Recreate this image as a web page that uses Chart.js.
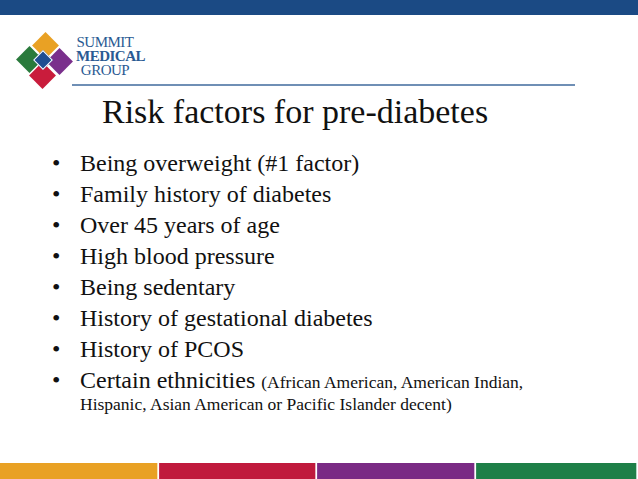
<!DOCTYPE html>
<html><head><meta charset="utf-8">
<script src="https://cdn.jsdelivr.net/npm/chart.js@4"></script>
<style>
html,body{margin:0;padding:0;background:#fff;width:638px;height:479px;overflow:hidden;position:relative;font-family:"Liberation Serif",serif}
#top{position:absolute;left:0;top:0;width:638px;height:15px;background:#1b4a84}
.d{position:absolute;width:19px;height:19px;transform:rotate(45deg)}
#logoText{position:absolute;left:76px;top:35px;width:58px;color:#2a5a93;text-align:center;line-height:14px;font-family:"Liberation Serif",serif;letter-spacing:-0.5px}
#rule{position:absolute;left:72px;top:84px;width:503px;height:2px;background:#6f8fb5}
#title{position:absolute;left:102px;top:93px;font-size:34px;color:#111}
ul{position:absolute;left:52px;top:148px;margin:0;padding:0;list-style:none;font-size:24px;color:#111}
li{height:31px;line-height:31px;position:relative;padding-left:28px;white-space:nowrap}
li:before{content:"•";position:absolute;left:0}
.sm{font-size:17.5px}
#stripe{position:absolute;left:0;top:463px;width:638px;height:16px}
</style></head><body>
<div id="top"></div>
<div class="d" style="left:36px;top:36px;background:#e9a124"></div>
<div class="d" style="left:20px;top:50px;background:#2a7a3c"></div>
<div class="d" style="left:50px;top:52px;background:#7a2f8c"></div>
<div class="d" style="left:33px;top:66px;background:#c91c3c"></div>
<div class="d" style="left:36px;top:53px;width:12px;height:12px;background:#1f4e92;border:1px solid #fff"></div>
<div id="logoText"><div style="font-size:15px">SUMMIT</div><div style="font-size:15px;font-weight:bold">MEDICAL</div><div style="font-size:15px">GROUP</div></div>
<div id="rule"></div>
<div id="title">Risk factors for pre-diabetes</div>
<ul>
<li>Being overweight (#1 factor)</li>
<li>Family history of diabetes</li>
<li>Over 45 years of age</li>
<li>High blood pressure</li>
<li>Being sedentary</li>
<li>History of gestational diabetes</li>
<li>History of PCOS</li>
<li style="height:auto;line-height:31px">Certain ethnicities <span class="sm">(African American, American Indian,</span><br><span class="sm" style="display:block;line-height:12px">Hispanic, Asian American or Pacific Islander decent)</span></li>
</ul>
<div id="stripe"><canvas id="c"></canvas></div>
<script>
const stripeNames=["orange","red","purple","green"];
const stripeValues=[159,158,159,162];
const stripeColors=["#e9a124","#c01a3c","#7a2a84","#1e7f48"];
new Chart(document.getElementById('c'),{
 type:'bar',
 data:{labels:[''],datasets:stripeNames.map((n,i)=>({label:n,data:[stripeValues[i]],backgroundColor:stripeColors[i],borderColor:'#fff',borderWidth:{right:2},borderSkipped:false,barPercentage:1,categoryPercentage:1}))},
 options:{indexAxis:'y',responsive:true,maintainAspectRatio:false,animation:false,
  layout:{padding:0},
  plugins:{legend:{display:false},tooltip:{enabled:false}},
  scales:{x:{stacked:true,display:false,min:0,max:638},y:{stacked:true,display:false}}}
});
</script>
</body></html>
